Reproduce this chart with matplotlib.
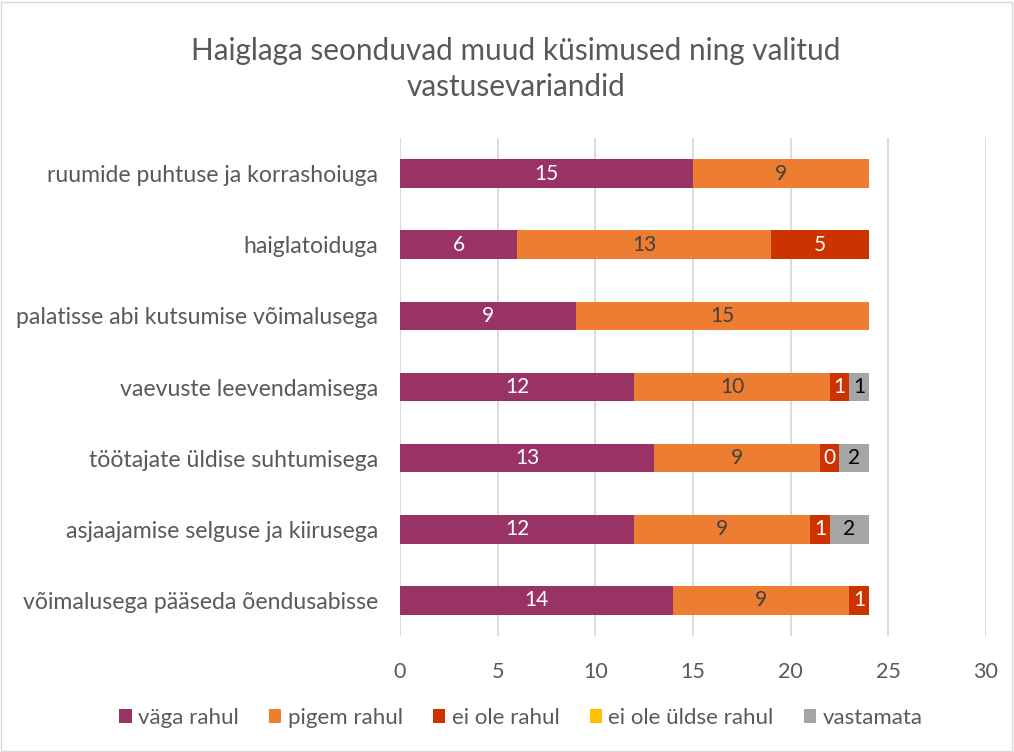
import matplotlib.pyplot as plt
import numpy as np
from matplotlib.patches import Rectangle

plt.rcParams['font.family'] = ['Lato', 'DejaVu Sans']

categories = [
    "ruumide puhtuse ja korrashoiuga",
    "haiglatoiduga",
    "palatisse abi kutsumise võimalusega",
    "vaevuste leevendamisega",
    "töötajate üldise suhtumisega",
    "asjaajamise selguse ja kiirusega",
    "võimalusega pääseda õendusabisse",
]
series_names = ["väga rahul", "pigem rahul", "ei ole rahul", "ei ole üldse rahul", "vastamata"]

vaga_rahul = [15, 6, 9, 12, 13, 12, 14]
pigem_rahul = [9, 13, 15, 10, 8.5, 9, 9]
ei_ole_rahul = [0, 5, 0, 1, 0.95, 1, 1]
ei_ole_uldse = [0, 0, 0, 0, 0, 0, 0]
vastamata = [0, 0, 0, 1, 1.55, 2, 0]

# label text as shown on the chart
vaga_lbl = ["15", "6", "9", "12", "13", "12", "14"]
pigem_lbl = ["9", "13", "15", "10", "9", "9", "9"]
ei_ole_lbl = ["", "5", "", "1", "0", "1", "1"]
uldse_lbl = ["", "", "", "", "", "", ""]
vast_lbl = ["", "", "", "1", "2", "2", ""]

colors = ["#993366", "#ED7D31", "#CC3300", "#FFC000", "#A5A5A5"]
text_colors = ["white", "#404040", "white", "#404040", "black"]

fig = plt.figure(figsize=(10.14, 7.52), dpi=100)
ax = fig.add_axes([400 / 1014, 116 / 752, 586 / 1014, 498 / 752])

y = np.arange(len(categories))
left = np.zeros(len(categories))
all_vals = [vaga_rahul, pigem_rahul, ei_ole_rahul, ei_ole_uldse, vastamata]
all_lbls = [vaga_lbl, pigem_lbl, ei_ole_lbl, uldse_lbl, vast_lbl]

for vals, lbls, name, c, tc in zip(all_vals, all_lbls, series_names, colors, text_colors):
    vals = np.array(vals, dtype=float)
    ax.barh(y, vals, left=left, height=0.4, color=c, label=name, zorder=3)
    for yi, (l, v, t) in enumerate(zip(left, vals, lbls)):
        if t:
            ax.text(l + v / 2, yi, t, ha="center", va="center", color=tc,
                    fontsize=15, zorder=4)
    left += vals

ax.set_xlim(0, 30)
ax.set_ylim(6.5, -0.5)
ax.set_xticks(np.arange(0, 31, 5))
ax.set_yticks(y)
ax.set_yticklabels(categories)
ax.grid(axis="x", color="#d9d9d9", linewidth=1.3, zorder=0)
for s in ax.spines.values():
    s.set_visible(False)
ax.tick_params(axis="both", length=0, colors="#595959")
ax.tick_params(axis="x", pad=19, labelsize=15.5)
ax.tick_params(axis="y", pad=16, labelsize=16.6)

fig.text(516 / 1014, 1 - 69 / 752, "Haiglaga seonduvad muud küsimused ning valitud\nvastusevariandid",
         ha="center", va="center", fontsize=21.4, color="#595959", linespacing=1.38)

handles, labels = ax.get_legend_handles_labels()
fig.legend(handles, labels, loc="center", bbox_to_anchor=(521 / 1014, 1 - 718 / 752), ncol=5,
           frameon=False, fontsize=16, labelcolor="#595959", handlelength=0.55,
           handleheight=0.55, handletextpad=0.3, columnspacing=1.35)

fig.patches.append(Rectangle((0.001, 0.001), 0.997, 0.997, transform=fig.transFigure,
                             fill=False, edgecolor="#d9d9d9", linewidth=1))

fig.savefig("out.png", dpi=100)
